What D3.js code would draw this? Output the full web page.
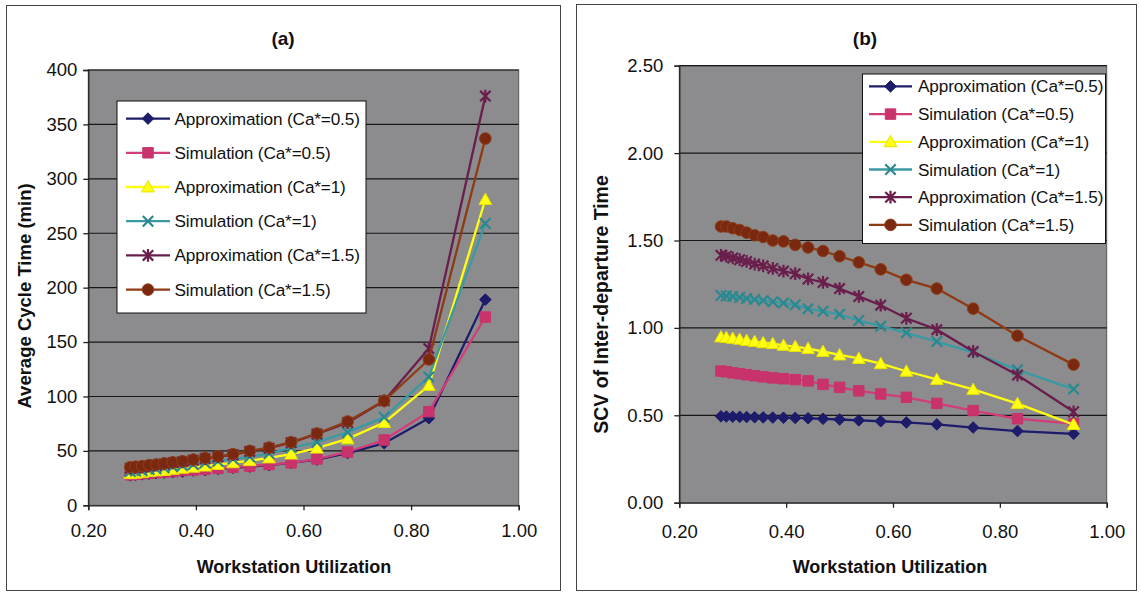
<!DOCTYPE html>
<html><head><meta charset="utf-8">
<script src="https://cdn.jsdelivr.net/npm/d3@7"></script>
<style>
body{margin:0;background:#fff}
svg{display:block}
text{font-family:"Liberation Sans",Arial,Helvetica,sans-serif;fill:#111}
</style>
</head><body>
<svg id="c" width="1141" height="594"></svg>
<script>
// ---------- data ----------
const utilization = [0.278, 0.288, 0.300, 0.313, 0.326, 0.341, 0.357, 0.375, 0.395, 0.417,
                     0.441, 0.469, 0.500, 0.536, 0.577, 0.625, 0.682, 0.750, 0.833, 0.938];

const seriesNames = ["Approximation (Ca*=0.5)", "Simulation (Ca*=0.5)", "Approximation (Ca*=1)",
                     "Simulation (Ca*=1)", "Approximation (Ca*=1.5)", "Simulation (Ca*=1.5)"];

// panel (a): average cycle time (min)
const ctApprox05 = [27.5, 28, 28.5, 29, 29.5, 30, 30.5, 31, 32, 32.5, 33.5, 34.5, 35.5, 37, 39, 42, 48, 57, 80, 189];
const ctSim05    = [28, 28.5, 29, 29.5, 30, 30.5, 31, 32, 32.5, 33, 34, 35, 36, 37.5, 39, 42.5, 49, 60, 86, 173];
const ctApprox1  = [29, 29.5, 30, 31, 31.5, 32, 33, 34, 35, 36, 37.5, 39, 41, 43.5, 47, 52.5, 61, 76, 110, 281];
const ctSim1     = [31, 31.5, 32, 33, 33.5, 34.5, 35.5, 36.5, 37.5, 39, 40.5, 42.5, 44.5, 47.5, 53, 58, 67, 81, 118, 259];
const ctApprox15 = [34, 34.5, 35, 36, 37, 38, 39, 40, 41.5, 43, 44.5, 46.5, 49.5, 52.5, 57.5, 65.5, 76, 96, 144, 376];
const ctSim15    = [35, 35.5, 36, 37, 37.5, 38.5, 39.5, 40.5, 42, 43.5, 45, 47, 50, 53, 58, 66, 77, 96, 134, 337];

// panel (b): SCV of inter-departure time
const scvApprox05 = [0.494, 0.493, 0.492, 0.491, 0.490, 0.489, 0.488, 0.487, 0.486, 0.485, 0.483, 0.480, 0.476, 0.471, 0.466, 0.459, 0.448, 0.430, 0.410, 0.394];
const scvSim05    = [0.753, 0.749, 0.743, 0.738, 0.732, 0.726, 0.720, 0.714, 0.709, 0.704, 0.697, 0.677, 0.660, 0.640, 0.622, 0.603, 0.568, 0.527, 0.480, 0.452];
const scvApprox1  = [0.948, 0.945, 0.940, 0.935, 0.928, 0.922, 0.915, 0.910, 0.900, 0.893, 0.882, 0.865, 0.845, 0.825, 0.795, 0.752, 0.705, 0.648, 0.567, 0.447];
const scvSim1     = [1.185, 1.183, 1.180, 1.175, 1.168, 1.163, 1.157, 1.150, 1.143, 1.132, 1.110, 1.095, 1.078, 1.042, 1.010, 0.972, 0.922, 0.860, 0.760, 0.650];
const scvApprox15 = [1.415, 1.410, 1.400, 1.390, 1.380, 1.365, 1.355, 1.340, 1.325, 1.310, 1.280, 1.260, 1.225, 1.180, 1.130, 1.055, 0.990, 0.865, 0.730, 0.520];
const scvSim15    = [1.580, 1.580, 1.570, 1.560, 1.545, 1.530, 1.520, 1.500, 1.495, 1.475, 1.460, 1.440, 1.410, 1.375, 1.335, 1.275, 1.225, 1.110, 0.955, 0.790];

const xTicks = [0.2, 0.4, 0.6, 0.8, 1.0];
const xTickLabels = ["0.20", "0.40", "0.60", "0.80", "1.00"];
const ctTicks = [0, 50, 100, 150, 200, 250, 300, 350, 400];
const ctTickLabels = ["0", "50", "100", "150", "200", "250", "300", "350", "400"];
const scvTicks = [0, 0.5, 1.0, 1.5, 2.0, 2.5];
const scvTickLabels = ["0.00", "0.50", "1.00", "1.50", "2.00", "2.50"];

// ---------- styles ----------
const lineColors   = ["#1c1c6a", "#d23c78", "#ffff10", "#3a9aa2", "#6a1e4c", "#8e3a12"];
const markerFill   = ["#1c1c6a", "#c8336c", "#ffff10", "none", "none", "#7a2810"];
const markerStroke = ["#1c1c6a", "#c8336c", "#e8e000", "#2c8890", "#6a1e4c", "#8e3e18"];
const markerKind   = ["diamond", "square", "triangle", "x", "star", "circle"];

function markerPath(kind, s) {
  switch (kind) {
    case "diamond": return `M0,${-s}L${s},0L0,${s}L${-s},0Z`;
    case "square": { const h = s * 0.9; return `M${-h},${-h}H${h}V${h}H${-h}Z`; }
    case "triangle": return `M0,${-s * 1.1}L${s * 1.1},${s * 0.85}L${-s * 1.1},${s * 0.85}Z`;
    case "x": { const h = s * 0.9; return `M${-h},${-h}L${h},${h}M${-h},${h}L${h},${-h}`; }
    case "star": { const h = s * 0.9; return `M${-h},${-h}L${h},${h}M${-h},${h}L${h},${-h}M0,${-s * 1.1}V${s * 1.1}`; }
  }
  return "";
}

const svg = d3.select("#c");

function drawMarker(g, kind, i, x, y, s) {
  if (kind === "circle") {
    g.append("circle").attr("cx", x).attr("cy", y).attr("r", s)
      .attr("fill", markerFill[i]).attr("stroke", markerStroke[i]).attr("stroke-width", 1);
  } else {
    const open = (kind === "x" || kind === "star");
    g.append("path").attr("transform", `translate(${x},${y})`).attr("d", markerPath(kind, s))
      .attr("fill", open ? "none" : markerFill[i])
      .attr("stroke", markerStroke[i]).attr("stroke-width", open ? 2.2 : 1);
  }
}

function panel(cfg) {
  const g = svg.append("g");
  g.append("rect").attr("x", cfg.frame[0]).attr("y", cfg.frame[1])
    .attr("width", cfg.frame[2]).attr("height", cfg.frame[3])
    .attr("fill", "none").attr("stroke", "#444").attr("stroke-width", 1);

  const x = d3.scaleLinear().domain([0.2, 1.0]).range([cfg.left, cfg.right]);
  const y = d3.scaleLinear().domain(cfg.yDomain).range([cfg.bottom, cfg.top]);

  g.append("rect").attr("x", cfg.left).attr("y", cfg.top)
    .attr("width", cfg.right - cfg.left).attr("height", cfg.bottom - cfg.top)
    .attr("fill", "#8c8c8f").attr("stroke", "#555").attr("stroke-width", 1);

  g.append("g").selectAll("line").data(cfg.yTicks.filter(d => d > 0)).join("line")
    .attr("x1", cfg.left).attr("x2", cfg.right)
    .attr("y1", d => y(d)).attr("y2", d => y(d))
    .attr("stroke", "#161616").attr("stroke-width", 1.2);

  const ya = g.append("g").attr("transform", `translate(${cfg.left},0)`)
    .call(d3.axisLeft(y).tickValues(cfg.yTicks).tickSize(5).tickPadding(cfg.yPad)
      .tickFormat((d, i) => cfg.yLabels[i]));
  ya.selectAll("text").attr("font-size", 18.5).attr("fill", "#111");
  ya.selectAll("line,path").attr("stroke", "#222").attr("stroke-width", 1.3);

  const xa = g.append("g").attr("transform", `translate(0,${cfg.bottom})`)
    .call(d3.axisBottom(x).tickValues(xTicks).tickSize(5).tickPadding(cfg.xPad)
      .tickFormat((d, i) => xTickLabels[i]));
  xa.selectAll("text").attr("font-size", 18.5).attr("fill", "#111");
  xa.selectAll("line,path").attr("stroke", "#222").attr("stroke-width", 1.3);

  const line = d3.line().x((d, j) => x(utilization[j])).y(d => y(d));
  cfg.series.forEach((vals, i) => {
    const sg = g.append("g");
    sg.append("path").attr("d", line(vals)).attr("fill", "none")
      .attr("stroke", lineColors[i]).attr("stroke-width", 2.3);
    vals.forEach((v, j) => drawMarker(sg, markerKind[i], i, x(utilization[j]), y(v), cfg.ms));
  });

  g.append("text").attr("x", cfg.titleX).attr("y", 45).attr("text-anchor", "middle")
    .attr("font-size", 19).attr("font-weight", "bold").text(cfg.title);
  g.append("text").attr("x", cfg.xTitleX).attr("y", 572.5).attr("text-anchor", "middle")
    .attr("font-size", 18).attr("font-weight", "bold").text("Workstation Utilization");
  g.append("text").attr("transform", `translate(${cfg.yTitleX},${cfg.yTitleY}) rotate(-90)`)
    .attr("text-anchor", "middle").attr("font-size", cfg.yTitleSize).attr("font-weight", "bold")
    .text(cfg.yTitle);

  const L = cfg.legend;
  const lg = g.append("g");
  lg.append("rect").attr("x", L.x).attr("y", L.y).attr("width", L.w).attr("height", L.h)
    .attr("fill", "#fff").attr("stroke", "#111").attr("stroke-width", 1);
  seriesNames.forEach((name, i) => {
    const cy = L.firstRow + i * L.step;
    lg.append("line").attr("x1", L.lx1).attr("x2", L.lx2).attr("y1", cy).attr("y2", cy)
      .attr("stroke", lineColors[i]).attr("stroke-width", 2.3);
    drawMarker(lg, markerKind[i], i, (L.lx1 + L.lx2) / 2, cy, cfg.ms);
    lg.append("text").attr("x", L.tx).attr("y", cy + 6).attr("font-size", 17.2)
      .attr("letter-spacing", -0.15).text(name);
  });
}

panel({
  frame: [6.5, 5.5, 554, 585],
  left: 88.3, right: 518.7, top: 70, bottom: 505.3,
  yDomain: [0, 400], yTicks: ctTicks, yLabels: ctTickLabels, yPad: 6, xPad: 14,
  series: [ctApprox05, ctSim05, ctApprox1, ctSim1, ctApprox15, ctSim15],
  ms: 5.8,
  title: "(a)", titleX: 283, xTitleX: 294,
  yTitle: "Average Cycle Time (min)", yTitleX: 30.5, yTitleY: 296, yTitleSize: 18.5,
  legend: { x: 117, y: 101, w: 249, h: 212, firstRow: 118.6, step: 34.2, lx1: 126, lx2: 170, tx: 174.5 }
});

panel({
  frame: [576.5, 4.5, 560, 586],
  left: 679.3, right: 1106.7, top: 65.7, bottom: 502.7,
  yDomain: [0, 2.5], yTicks: scvTicks, yLabels: scvTickLabels, yPad: 11, xPad: 17,
  series: [scvApprox05, scvSim05, scvApprox1, scvSim1, scvApprox15, scvSim15],
  ms: 5.8,
  title: "(b)", titleX: 865, xTitleX: 890,
  yTitle: "SCV of Inter-departure Time", yTitleX: 608, yTitleY: 304.5, yTitleSize: 19.5,
  legend: { x: 862.5, y: 74, w: 243, h: 169.5, firstRow: 86.4, step: 27.7, lx1: 869, lx2: 912, tx: 918 }
});
</script>
</body></html>
